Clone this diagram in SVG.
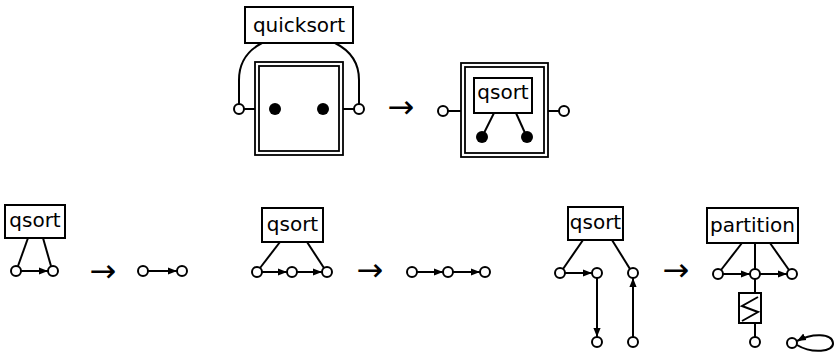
<svg xmlns="http://www.w3.org/2000/svg" width="838" height="358" viewBox="0 0 838 358">
  <style>
    .box { fill: #fff; stroke: #000; stroke-width: 2; }
    .frame { fill: none; stroke: #000; stroke-width: 1.8; }
    .port { fill: #fff; stroke: #000; stroke-width: 2; }
    .dot { fill: #000; }
    .ln { fill: none; stroke: #000; stroke-width: 2; }
    .arr { fill: none; stroke: #000; stroke-width: 2; marker-end: url(#head); }
    .lbl { font-family: "DejaVu Sans", sans-serif; font-size: 20px; fill: #000; text-anchor: middle; }
    .to { font-family: "DejaVu Sans", sans-serif; font-size: 32px; fill: #000; text-anchor: middle; }
  </style>
  <defs>
    <marker id="head" viewBox="0 0 10 10" refX="10" refY="5" markerWidth="9" markerHeight="9" markerUnits="userSpaceOnUse" orient="auto">
      <path d="M0,1 L10,5 L0,9 Z" fill="#000"/>
    </marker>
  </defs>

  <!-- rewrite arrows -->
  <g id="rewrites">
    <text class="to" x="401" y="118">→</text>
    <text class="to" x="103" y="282">→</text>
    <text class="to" x="370" y="281">→</text>
    <text class="to" x="676" y="281">→</text>
  </g>

  <!-- top left: quicksort applied to a frame -->
  <g id="quicksort">
    <rect class="box" x="245" y="7" width="108" height="36"/>
    <text class="lbl" x="299" y="32">quicksort</text>
  </g>
  <g id="frame-a">
    <rect class="frame" x="255" y="62" width="88" height="93"/>
    <rect class="frame" x="259" y="66" width="80" height="85"/>
    <circle class="dot" cx="275" cy="109" r="6"/>
    <circle class="dot" cx="323" cy="109" r="6"/>
  </g>
  <g id="port-a1"><circle class="port" cx="239" cy="109" r="5"/></g>
  <g id="port-a2"><circle class="port" cx="359" cy="109" r="5"/></g>

  <!-- top right: frame containing qsort -->
  <g id="frame-b">
    <rect class="frame" x="461" y="63" width="87" height="94"/>
    <rect class="frame" x="465" y="67" width="79" height="86"/>
    <circle class="dot" cx="482" cy="137" r="6"/>
    <circle class="dot" cx="527" cy="137" r="6"/>
  </g>
  <g id="qsort-b">
    <rect class="box" x="474" y="78" width="58" height="35"/>
    <text class="lbl" x="503" y="99">qsort</text>
  </g>
  <g id="port-b1"><circle class="port" cx="443" cy="111" r="5"/></g>
  <g id="port-b2"><circle class="port" cx="564" cy="111" r="5"/></g>

  <!-- bottom row, rule 1 -->
  <g id="qsort-1">
    <rect class="box" x="5" y="205" width="60" height="33"/>
    <text class="lbl" x="35" y="227">qsort</text>
  </g>
  <g id="n1a"><circle class="port" cx="16" cy="271" r="5"/></g>
  <g id="n1b"><circle class="port" cx="53" cy="271" r="5"/></g>
  <g id="n1c"><circle class="port" cx="143" cy="271" r="5"/></g>
  <g id="n1d"><circle class="port" cx="182" cy="271" r="5"/></g>

  <!-- bottom row, rule 2 -->
  <g id="qsort-2">
    <rect class="box" x="262" y="208" width="61" height="34"/>
    <text class="lbl" x="292.5" y="231">qsort</text>
  </g>
  <g id="n2a"><circle class="port" cx="257" cy="272" r="5"/></g>
  <g id="n2b"><circle class="port" cx="292" cy="272" r="5"/></g>
  <g id="n2c"><circle class="port" cx="327" cy="272" r="5"/></g>
  <g id="n2d"><circle class="port" cx="412" cy="272" r="5"/></g>
  <g id="n2e"><circle class="port" cx="448" cy="272" r="5"/></g>
  <g id="n2f"><circle class="port" cx="485" cy="272" r="5"/></g>

  <!-- bottom row, rule 3 -->
  <g id="qsort-3">
    <rect class="box" x="568" y="207" width="55" height="33"/>
    <text class="lbl" x="595.5" y="229">qsort</text>
  </g>
  <g id="n3a"><circle class="port" cx="560" cy="273" r="5"/></g>
  <g id="n3b"><circle class="port" cx="597" cy="273" r="5"/></g>
  <g id="n3c"><circle class="port" cx="633" cy="273" r="5"/></g>
  <g id="n3d"><circle class="port" cx="597" cy="342" r="5"/></g>
  <g id="n3e"><circle class="port" cx="633" cy="342" r="5"/></g>

  <g id="partition">
    <rect class="box" x="707" y="208" width="91" height="35"/>
    <text class="lbl" x="752.5" y="232">partition</text>
  </g>
  <g id="compare">
    <rect class="box" x="739" y="293" width="22" height="30"/>
    <polyline class="ln" points="758,297 742,306 758,312 742,321" stroke-width="1.6"/>
  </g>
  <g id="n4a"><circle class="port" cx="718" cy="274" r="5"/></g>
  <g id="n4b"><circle class="port" cx="755" cy="274" r="5"/></g>
  <g id="n4c"><circle class="port" cx="792" cy="274" r="5"/></g>
  <g id="n4d"><circle class="port" cx="755" cy="342" r="5"/></g>
  <g id="n4e"><circle class="port" cx="792" cy="343" r="5"/></g>

  <g id="connectors">
    <!-- quicksort arcs and frame links -->
    <path class="ln" d="M262,43 Q239,55 239,80 V104"/>
    <path class="ln" d="M335,43 Q359,55 359,80 V104"/>
    <line class="ln" x1="244" y1="109" x2="255" y2="109"/>
    <line class="ln" x1="343" y1="109" x2="354" y2="109"/>
    <line class="ln" x1="448" y1="111" x2="461" y2="111"/>
    <line class="ln" x1="548" y1="111" x2="559" y2="111"/>
    <line class="ln" x1="494" y1="113" x2="484" y2="133"/>
    <line class="ln" x1="516" y1="113" x2="525" y2="133"/>

    <!-- rule 1 -->
    <line class="ln" x1="28" y1="238" x2="18" y2="266"/>
    <line class="ln" x1="43" y1="238" x2="51" y2="266"/>
    <line class="arr" x1="21" y1="271" x2="48" y2="271"/>
    <line class="arr" x1="148" y1="271" x2="177" y2="271"/>

    <!-- rule 2 -->
    <line class="ln" x1="280" y1="242" x2="260" y2="268"/>
    <line class="ln" x1="307" y1="242" x2="324" y2="268"/>
    <line class="arr" x1="262" y1="272" x2="287" y2="272"/>
    <line class="arr" x1="297" y1="272" x2="322" y2="272"/>
    <line class="arr" x1="417" y1="272" x2="443" y2="272"/>
    <line class="arr" x1="453" y1="272" x2="480" y2="272"/>

    <!-- rule 3 -->
    <line class="ln" x1="583" y1="240" x2="563" y2="269"/>
    <line class="ln" x1="612" y1="240" x2="630" y2="269"/>
    <line class="arr" x1="565" y1="273" x2="592" y2="273"/>
    <line class="arr" x1="597" y1="278" x2="597" y2="337"/>
    <line class="arr" x1="633" y1="337" x2="633" y2="278"/>

    <line class="ln" x1="742" y1="243" x2="721" y2="270"/>
    <line class="ln" x1="755" y1="243" x2="755" y2="269"/>
    <line class="ln" x1="770" y1="243" x2="789" y2="270"/>
    <line class="arr" x1="723" y1="274" x2="750" y2="274"/>
    <line class="arr" x1="760" y1="274" x2="787" y2="274"/>
    <line class="ln" x1="755" y1="279" x2="755" y2="293"/>
    <line class="ln" x1="755" y1="323" x2="755" y2="337"/>
    <path class="arr" d="M797,345 C812,354 834,352 833,343 C832,333 812,333 797,341"/>
  </g>
</svg>
